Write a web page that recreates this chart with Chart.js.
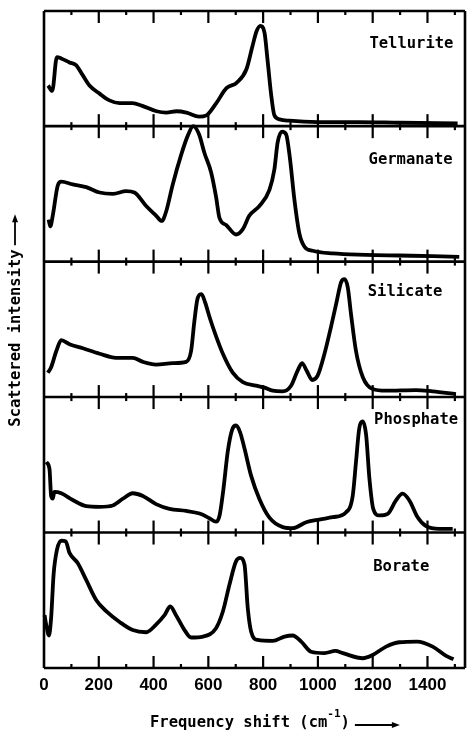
<!DOCTYPE html>
<html>
<head>
<meta charset="utf-8">
<script src="https://cdn.jsdelivr.net/npm/chart.js@4/dist/chart.umd.min.js"></script>
<style>
html,body{margin:0;padding:0;background:#fff;}
canvas{display:block;}
</style>
</head>
<body>
<canvas id="c" width="467" height="736"></canvas>
<script>
// ---- data ----
const xTickValues = [0, 200, 400, 600, 800, 1000, 1200, 1400];
const panelNames = ['Tellurite', 'Germanate', 'Silicate', 'Phosphate', 'Borate'];

const telluriteShift = [15, 30, 47, 63, 93, 117, 140, 166, 203, 239, 276, 323, 359, 411, 447, 484, 520, 566, 593, 629, 666, 703, 739, 761, 776, 790, 805, 816, 830, 841, 860, 896, 1000, 1150, 1300, 1510];
const telluriteIntensity = [30, 26, 51, 50, 47, 45, 38, 30, 24, 19, 17, 17, 15, 11, 10, 11, 10, 7, 8, 17, 28, 32, 42, 59, 70, 74, 69, 49, 22, 8, 5, 4, 3, 3, 2.5, 2];

const germanateShift = [17, 23, 32, 50, 63, 105, 154, 203, 252, 300, 330, 373, 409, 430, 446, 470, 501, 525, 545, 566, 586, 610, 628, 641, 665, 701, 726, 750, 786, 823, 841, 853, 869, 884, 898, 914, 932, 951, 981, 1054, 1176, 1297, 1419, 1516];
const germanateIntensity = [31, 26, 34, 56, 59, 57, 55, 51, 50, 52, 51, 41, 34, 30, 37, 57, 79, 93, 100, 94, 80, 66, 48, 32, 27, 20, 24, 34, 41, 53, 68, 88, 96, 94, 76, 46, 21, 11, 8, 6, 5, 4.5, 4, 3.5];

const silicateShift = [14, 26, 45, 63, 93, 142, 203, 263, 324, 361, 409, 470, 519, 537, 549, 561, 575, 588, 606, 628, 653, 689, 726, 774, 805, 835, 871, 902, 926, 942, 959, 979, 999, 1024, 1048, 1069, 1085, 1097, 1109, 1121, 1139, 1164, 1200, 1249, 1358, 1419, 1504];
const silicateIntensity = [18, 22, 34, 42, 39, 36, 32, 29, 29, 26, 24, 25, 26, 34, 56, 73, 76, 70, 58, 45, 32, 18, 11, 8.5, 7, 4.7, 4.2, 8.4, 19.5, 25, 19.5, 12.6, 15.8, 32, 52, 71, 85, 87, 81, 61, 34, 14.6, 5.9, 4.7, 5.2, 4.2, 2.2];

const phosphateShift = [8, 20, 26, 32, 38, 63, 105, 154, 203, 251, 288, 324, 361, 409, 458, 519, 568, 604, 628, 641, 655, 671, 687, 701, 716, 732, 756, 786, 823, 872, 908, 957, 1005, 1054, 1103, 1127, 1139, 1151, 1164, 1176, 1188, 1202, 1224, 1255, 1285, 1309, 1334, 1364, 1395, 1443, 1492];
const phosphateIntensity = [52, 47, 27, 25, 30, 29, 24, 19.5, 19, 20, 25, 29, 27, 21, 17.5, 16, 14, 10.6, 8, 12.6, 32, 60, 76, 79, 74, 62, 42, 25, 11, 4, 3.2, 7.6, 9.6, 11.3, 15, 27, 52, 77, 82, 72, 40, 17.5, 12.6, 13.8, 23.7, 28.7, 23.7, 11.3, 4.7, 2.7, 2.7];

const borateShift = [2, 8, 18, 26, 35, 47, 63, 79, 93, 123, 154, 191, 227, 276, 324, 373, 409, 440, 461, 482, 513, 537, 580, 628, 653, 677, 701, 716, 732, 744, 756, 780, 835, 878, 908, 939, 975, 1024, 1064, 1091, 1164, 1200, 1249, 1297, 1362, 1419, 1468, 1495];
const borateIntensity = [39, 32, 24, 37, 69, 87, 94, 93.6, 85, 77.5, 65, 50, 42, 34, 28, 26.4, 32, 39, 45.4, 39, 28, 22.5, 23.2, 29.4, 41.7, 61.5, 78.7, 81.3, 76.3, 44, 27, 20.7, 20, 23.2, 24, 19.5, 12, 11, 12.6, 11, 7.2, 9.6, 15.8, 19, 19.5, 15.8, 9, 6.5];

// ---- build (each panel is 100 intensity units tall; top panel is shorter) ----
const PANEL = 100;
const TOP = 485;
const seriesList = [
  [telluriteShift, telluriteIntensity],
  [germanateShift, germanateIntensity],
  [silicateShift, silicateIntensity],
  [phosphateShift, phosphateIntensity],
  [borateShift, borateIntensity]
];
const datasets = seriesList.map(function (s, i) {
  const offset = (seriesList.length - 1 - i) * PANEL;
  return {
    label: panelNames[i],
    data: s[0].map(function (x, k) { return { x: x, y: s[1][k] + offset }; }),
    borderColor: '#000',
    borderWidth: 3.8,
    pointRadius: 0,
    fill: false,
    cubicInterpolationMode: 'monotone',
    clip: false
  };
});

const MONO = '"DejaVu Sans Mono", "Liberation Mono", monospace';

const framePlugin = {
  id: 'frame',
  afterDraw: function (chart) {
    const ctx = chart.ctx;
    const xs = chart.scales.x, ys = chart.scales.y;
    const area = chart.chartArea;
    ctx.save();
    ctx.strokeStyle = '#000';
    ctx.fillStyle = '#000';
    // horizontal boundaries
    const bounds = [0, 100, 200, 300, 400, TOP];
    ctx.lineWidth = 2.6;
    bounds.forEach(function (b) {
      const y = ys.getPixelForValue(b);
      ctx.beginPath(); ctx.moveTo(area.left, y); ctx.lineTo(area.right, y); ctx.stroke();
    });
    // verticals
    ctx.beginPath(); ctx.moveTo(area.left, area.top); ctx.lineTo(area.left, area.bottom); ctx.stroke();
    ctx.beginPath(); ctx.moveTo(area.right, area.top); ctx.lineTo(area.right, area.bottom); ctx.stroke();
    // tick marks on every boundary
    ctx.lineWidth = 2.2;
    bounds.forEach(function (b, bi) {
      const y = ys.getPixelForValue(b);
      for (let v = 100; v <= 1500; v += 100) {
        const x = xs.getPixelForValue(v);
        const major = v % 200 === 0;
        const len = major ? 12 : 4;
        const up = bi === bounds.length - 1 ? 0 : len;
        const down = bi === 0 ? 0 : len;
        ctx.beginPath(); ctx.moveTo(x, y - up); ctx.lineTo(x, y + down); ctx.stroke();
      }
    });
    // panel names
    ctx.font = 'bold 15.5px ' + MONO;
    ctx.textAlign = 'left';
    ctx.textBaseline = 'middle';
    const labelX = [1188, 1185, 1182, 1205, 1202];
    const labelDy = [33, 34, 30, 23, 34];
    panelNames.forEach(function (n, i) {
      const topVal = i === 0 ? TOP : (seriesList.length - i) * PANEL;
      ctx.fillText(n, xs.getPixelForValue(labelX[i]), ys.getPixelForValue(topVal) + labelDy[i]);
    });
    // x title
    ctx.textBaseline = 'middle';
    const tx = 150, ty = 723;
    const main = 'Frequency shift (cm';
    ctx.fillText(main, tx, ty);
    let w = ctx.measureText(main).width;
    ctx.font = 'bold 11px ' + MONO;
    ctx.fillText('-1', tx + w, ty - 9);
    const w2 = ctx.measureText('-1').width;
    ctx.font = 'bold 15.5px ' + MONO;
    ctx.fillText(')', tx + w + w2, ty);
    const ax0 = tx + w + w2 + ctx.measureText(')').width + 5;
    ctx.lineWidth = 1.8;
    ctx.beginPath(); ctx.moveTo(ax0, ty + 2); ctx.lineTo(ax0 + 40, ty + 2); ctx.stroke();
    ctx.beginPath(); ctx.moveTo(ax0 + 45, ty + 2); ctx.lineTo(ax0 + 37, ty - 1); ctx.lineTo(ax0 + 37, ty + 5); ctx.closePath(); ctx.fill();
    // y title
    ctx.save();
    ctx.translate(16, 338);
    ctx.rotate(-Math.PI / 2);
    ctx.textAlign = 'center';
    ctx.fillText('Scattered intensity', 0, 0);
    const yw = ctx.measureText('Scattered intensity').width;
    const s0 = yw / 2 + 4;
    ctx.lineWidth = 1.8;
    ctx.beginPath(); ctx.moveTo(s0, -1); ctx.lineTo(s0 + 26, -1); ctx.stroke();
    ctx.beginPath(); ctx.moveTo(s0 + 31, -1); ctx.lineTo(s0 + 23, -4); ctx.lineTo(s0 + 23, 2); ctx.closePath(); ctx.fill();
    ctx.restore();
    ctx.restore();
  }
};

new Chart(document.getElementById('c'), {
  type: 'line',
  data: { datasets: datasets },
  options: {
    responsive: false,
    animation: false,
    devicePixelRatio: 1,
    layout: { padding: { left: 44, right: 2, top: 11, bottom: 0 } },
    plugins: { legend: { display: false }, tooltip: { enabled: false } },
    scales: {
      x: {
        type: 'linear',
        min: 0,
        max: 1537,
        grid: { display: false, drawTicks: false },
        border: { display: false },
        afterBuildTicks: function (scale) { scale.ticks = xTickValues.map(function (v) { return { value: v }; }); },
        afterFit: function (scale) { scale.height = 68; },
        ticks: {
          autoSkip: false,
          maxRotation: 0,
          padding: 7,
          color: '#000',
          font: { family: '"Liberation Sans", Arial, sans-serif', weight: 'bold', size: 17 },
          callback: function (v) { return String(v); }
        }
      },
      y: {
        type: 'linear',
        display: false,
        min: 0,
        max: TOP
      }
    }
  },
  plugins: [framePlugin]
});
</script>
</body>
</html>
